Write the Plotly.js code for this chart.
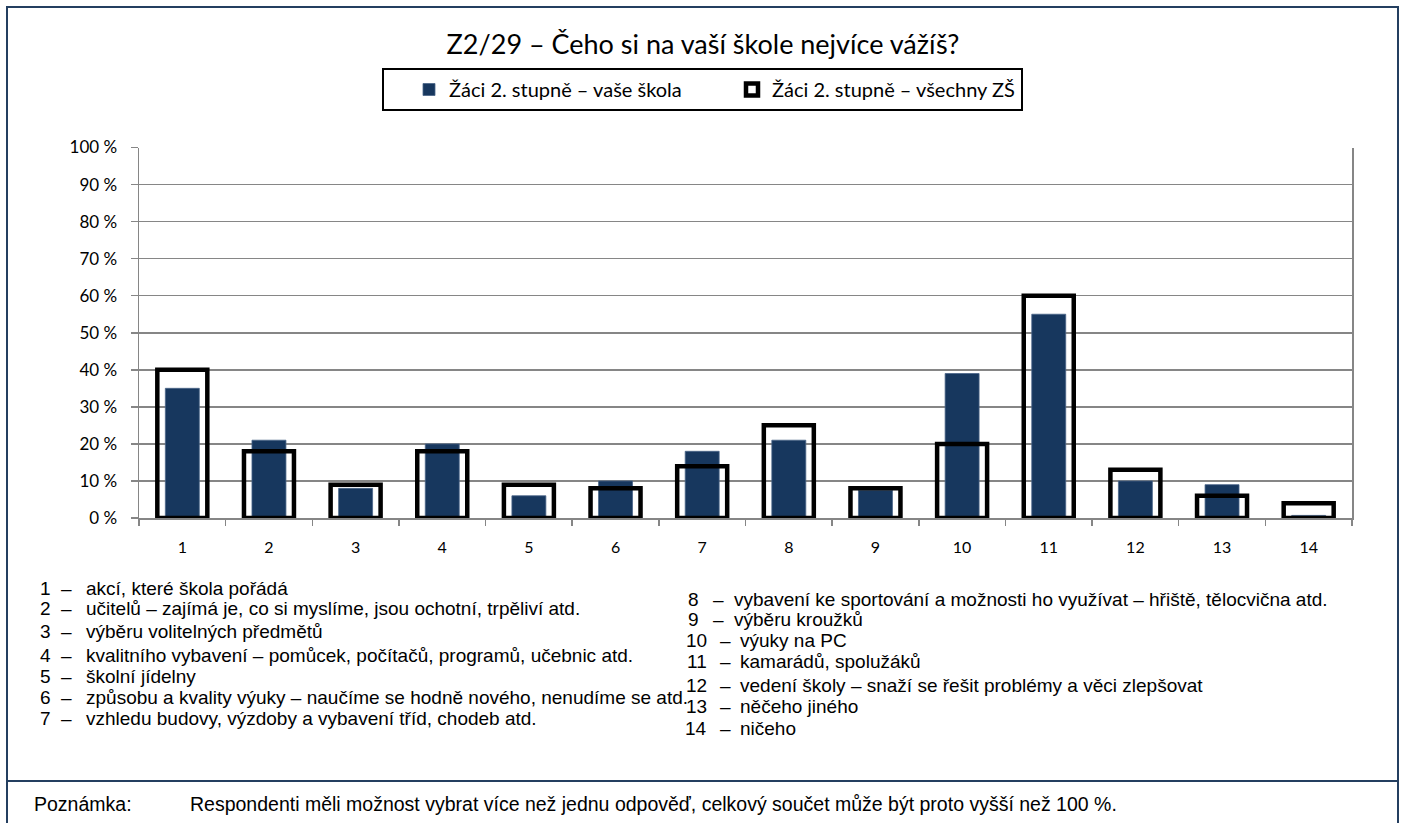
<!DOCTYPE html>
<html>
<head>
<meta charset="utf-8">
<script src="https://cdn.plot.ly/plotly-3.0.1.min.js"></script>
<style>
  html, body { margin: 0; padding: 0; background: #ffffff; }
  #chart { width: 1401px; height: 823px; }
</style>
</head>
<body>
<div id="chart"></div>
<script>
const categories = ['1','2','3','4','5','6','7','8','9','10','11','12','13','14'];
const seriesSchool = [35, 21, 8, 20, 6, 10, 18, 21, 7.5, 39, 55, 10, 9, 0.7];
const seriesAll = [40, 18, 9, 18, 9, 8, 14, 25, 8, 20, 60, 13, 6, 4];
const seriesNames = ['Žáci 2. stupně – vaše škola', 'Žáci 2. stupně – všechny ZŠ'];
const yTickValues = [0, 10, 20, 30, 40, 50, 60, 70, 80, 90, 100];
const yTickLabels = ['0 %','10 %','20 %','30 %','40 %','50 %','60 %','70 %','80 %','90 %','100 %'];
const titleText = 'Z2/29 – Čeho si na vaší škole nejvíce vážíš?';
const itemsLeft = [
  ['1', 'akcí, které škola pořádá'],
  ['2', 'učitelů – zajímá je, co si myslíme, jsou ochotní, trpěliví atd.'],
  ['3', 'výběru volitelných předmětů'],
  ['4', 'kvalitního vybavení – pomůcek, počítačů, programů, učebnic atd.'],
  ['5', 'školní jídelny'],
  ['6', 'způsobu a kvality výuky – naučíme se hodně nového, nenudíme se atd.'],
  ['7', 'vzhledu budovy, výzdoby a vybavení tříd, chodeb atd.']
];
const itemsRight = [
  ['8', 'vybavení ke sportování a možnosti ho využívat – hřiště, tělocvična atd.'],
  ['9', 'výběru kroužků'],
  ['10', 'výuky na PC'],
  ['11', 'kamarádů, spolužáků'],
  ['12', 'vedení školy – snaží se řešit problémy a věci zlepšovat'],
  ['13', 'něčeho jiného'],
  ['14', 'ničeho']
];
const noteLabel = 'Poznámka:';
const noteText = 'Respondenti měli možnost vybrat více než jednu odpověď, celkový součet může být proto vyšší než 100 %.';

const W = 1401, H = 823;
const px = x => x / W;
const py = y => 1 - y / H;

const plotLeft = 139, plotRight = 1352, plotTop = 147.5, plotBottom = 518;

const traces = [
  {
    type: 'bar', x: categories, y: seriesSchool, name: seriesNames[0],
    width: 0.392,
    marker: { color: '#17375E', line: { color: '#4A6488', width: 0.8 } },
    hoverinfo: 'skip'
  },
  {
    type: 'bar', x: categories, y: seriesAll, name: seriesNames[1],
    width: 0.577,
    marker: { color: 'rgba(255,255,255,0)', line: { color: '#000000', width: 4.5 } },
    hoverinfo: 'skip'
  }
];

const annotations = [];
const textFont = { family: 'Liberation Sans, Arial, sans-serif', size: 19, color: '#000000' };
const leftYs = [588, 608, 631, 655, 676, 697, 718];
itemsLeft.forEach((it, i) => {
  annotations.push({ xref: 'paper', yref: 'paper', x: px(38), y: py(leftYs[i]), xanchor: 'left', yanchor: 'middle', text: it[0], showarrow: false, font: textFont });
  annotations.push({ xref: 'paper', yref: 'paper', x: px(59), y: py(leftYs[i]), xanchor: 'left', yanchor: 'middle', text: '–', showarrow: false, font: textFont });
  annotations.push({ xref: 'paper', yref: 'paper', x: px(84), y: py(leftYs[i]), xanchor: 'left', yanchor: 'middle', text: it[1], showarrow: false, font: textFont });
});
const rightYs = [599, 619, 640, 661, 685, 706, 728];
itemsRight.forEach((it, i) => {
  const two = it[0].length > 1;
  annotations.push({ xref: 'paper', yref: 'paper', x: px(two ? 709 : 701), y: py(rightYs[i]), xanchor: 'right', yanchor: 'middle', text: it[0], showarrow: false, font: textFont });
  annotations.push({ xref: 'paper', yref: 'paper', x: px(two ? 718 : 711), y: py(rightYs[i]), xanchor: 'left', yanchor: 'middle', text: '–', showarrow: false, font: textFont });
  annotations.push({ xref: 'paper', yref: 'paper', x: px(two ? 738 : 732), y: py(rightYs[i]), xanchor: 'left', yanchor: 'middle', text: it[1], showarrow: false, font: textFont });
});
const noteFont = { family: 'Liberation Sans, Arial, sans-serif', size: 19.5, color: '#000000' };
annotations.push({ xref: 'paper', yref: 'paper', x: px(32), y: py(804), xanchor: 'left', yanchor: 'middle', text: noteLabel, showarrow: false, font: noteFont });
annotations.push({ xref: 'paper', yref: 'paper', x: px(188), y: py(804), xanchor: 'left', yanchor: 'middle', text: noteText, showarrow: false, font: noteFont });

const borderColor = '#243F60';
const shapes = [
  { type: 'rect', xref: 'paper', yref: 'paper', x0: px(7), x1: px(1398), y0: py(840), y1: py(7), line: { color: borderColor, width: 2 }, layer: 'below' },
  { type: 'line', xref: 'paper', yref: 'paper', x0: px(7), x1: px(1398), y0: py(781), y1: py(781), line: { color: borderColor, width: 2 } },
  { type: 'rect', xref: 'paper', yref: 'paper', x0: px(383), x1: px(1022), y0: py(110), y1: py(69), line: { color: '#000000', width: 2 }, layer: 'below' }
];

const layout = {
  width: W, height: H,
  margin: { l: 0, r: 0, t: 0, b: 0 },
  paper_bgcolor: '#ffffff', plot_bgcolor: '#ffffff',
  font: { family: 'Lato, Calibri, sans-serif', size: 16, color: '#000000' },
  title: {
    text: titleText,
    x: px(703), xanchor: 'center', xref: 'container',
    y: py(45), yanchor: 'middle', yref: 'container',
    font: { family: 'Lato, Calibri, sans-serif', size: 27, color: '#000000', weight: 'normal' }
  },
  barmode: 'overlay',
  showlegend: true,
  legend: {
    orientation: 'h',
    x: px(409), xanchor: 'left',
    y: py(89.5), yanchor: 'middle',
    bgcolor: 'rgba(0,0,0,0)', borderwidth: 0,
    font: { family: 'Lato, Calibri, sans-serif', size: 20, color: '#000000' },
    traceorder: 'normal',
    entrywidth: 278, entrywidthmode: 'pixels',
    itemclick: false, itemdoubleclick: false
  },
  xaxis: {
    domain: [px(plotLeft), px(plotRight)],
    type: 'category',
    categoryorder: 'array', categoryarray: categories,
    showline: true, linecolor: '#868686', linewidth: 1.5,
    ticks: 'outside', ticklen: 6, tickcolor: '#868686', tickwidth: 1.5,
    tickson: 'boundaries',
    showgrid: false, zeroline: false,
    tickfont: { family: 'Lato, Calibri, sans-serif', size: 16, color: '#000000' },
    ticklabelstandoff: 14,
    fixedrange: true
  },
  yaxis: {
    domain: [py(plotBottom), py(plotTop)],
    range: [0, 100],
    tickvals: yTickValues, ticktext: yTickLabels,
    showline: true, linecolor: '#868686', linewidth: 1.5, mirror: true,
    ticks: 'outside', ticklen: 7, tickcolor: '#868686', tickwidth: 1.5,
    showgrid: true, gridcolor: '#868686', gridwidth: 1.5,
    zeroline: false,
    tickfont: { family: 'Lato, Calibri, sans-serif', size: 17, color: '#000000' },
    ticklabelstandoff: 10,
    fixedrange: true
  },
  annotations: annotations,
  shapes: shapes
};

Plotly.newPlot('chart', traces, layout, { displayModeBar: false, staticPlot: true });
</script>
</body>
</html>
